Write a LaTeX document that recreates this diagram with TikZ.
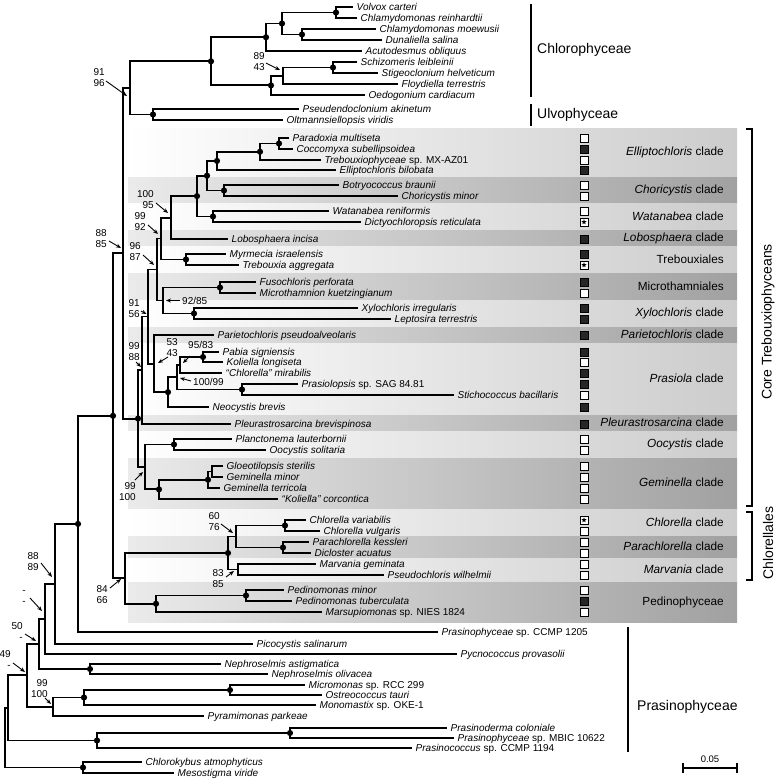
\documentclass[tikz,border=0pt]{standalone}
\usepackage{fontspec}
\setmainfont{Liberation Sans}
\usetikzlibrary{calc,arrows.meta,shapes.geometric}
\newcommand{\mkleaf}[4]{%
  \coordinate (#1) at (#2,#3);
  \node[sp] (#1t) at ($(#1)+(3.5,3.5)$) {#4};}
\newcommand{\mkjoin}[4]{%
  \path let \p1=($(#3)!0.5!(#4)$) in (#2pt,\y1) coordinate (#1);
  \draw[br] (#1) |- (#3);
  \draw[br] (#1) |- (#4);}
\newcommand{\mkband}[4]{%
  \shade[#3] (128,#1) rectangle (737,#2);
  \node[cl] at (724,{(#1+#2)/2}) {#4};}
\newcommand{\mksq}[2]{\node[sq#2] (q#1) at (584,0 |- #1) {};}
\newcommand{\mkstar}[1]{\node[sqo] (q#1) at (584,0 |- #1) {};\node[starm] (s#1) at (q#1) {};}
\newcommand{\bsl}[9]{%
  \node[bs, anchor=#2] (#1) at (#3,#4) {#5};
  \coordinate (#1s) at (#6,#7); \coordinate (#1e) at (#8,#9);
  \draw[arr] (#1s) -- (#1e);}
\newcommand{\mkdot}[1]{\fill (#1) circle (3.1);}
\begin{document}
\begin{tikzpicture}[x=1pt,y=-1pt,
  br/.style={line width=1.9pt, black},
  sp/.style={font=\fontsize{10}{12}\selectfont, anchor=base west, inner sep=0pt},
  bs/.style={font=\fontsize{10}{11}\selectfont, align=right, inner sep=0pt},
  arr/.style={line width=0.9pt, -{Stealth[length=5pt,width=4pt]}},
  cl/.style={font=\fontsize{11.8}{14}\selectfont, anchor=east, inner sep=0pt, text height=8.5pt, text depth=2.5pt},
  grp/.style={font=\fontsize{14}{16}\selectfont, inner sep=0pt},
  sqo/.style={draw=black, fill=white, line width=0.6pt, minimum size=7.6pt, inner sep=0pt},
  sqf/.style={sqo, fill=black!85},
  starm/.style={star, star points=5, star point ratio=2.3, fill=black, inner sep=0pt, minimum size=5.5pt},
  bandL/.style={left color=white, right color=black!20},
  bandD/.style={left color=black!8, right color=black!37}]
\useasboundingbox (0,0) rectangle (778,780);
% ---------- bands ----------
\mkband{128}{177.5}{bandL}{\textit{Elliptochloris} clade}
\mkband{177.5}{203.5}{bandD}{\textit{Choricystis} clade}
\mkband{203.5}{230.5}{bandL}{\textit{Watanabea} clade}
\mkband{230.5}{246.5}{bandD}{\textit{Lobosphaera} clade}
\mkband{246.5}{273.5}{bandL}{Trebouxiales}
\mkband{273.5}{300.5}{bandD}{Microthamniales}
\mkband{300.5}{327}{bandL}{\textit{Xylochloris} clade}
\mkband{327}{343.5}{bandD}{\textit{Parietochloris} clade}
\mkband{343.5}{415.5}{bandL}{\textit{Prasiola} clade}
\mkband{415.5}{431.5}{bandD}{\textit{Pleurastrosarcina} clade}
\mkband{431.5}{458}{bandL}{\textit{Oocystis} clade}
\mkband{458}{509.5}{bandD}{\textit{Geminella} clade}
\mkband{509.5}{536.5}{bandL}{\textit{Chlorella} clade}
\mkband{536.5}{558.5}{bandD}{\textit{Parachlorella} clade}
\mkband{558.5}{582.5}{bandL}{\textit{Marvania} clade}
\mkband{582.5}{622}{bandD}{Pedinophyceae}
% ---------- leaves ----------
\mkleaf{vol}{353}{7}{\textit{Volvox carteri}}
\mkleaf{crei}{357}{18}{\textit{Chlamydomonas reinhardtii}}
\mkleaf{cmoe}{376}{29}{\textit{Chlamydomonas moewusii}}
\mkleaf{dun}{382}{40}{\textit{Dunaliella salina}}
\mkleaf{acu}{362}{51}{\textit{Acutodesmus obliquus}}
\mkleaf{sch}{357}{62}{\textit{Schizomeris leibleinii}}
\mkleaf{sti}{378}{73}{\textit{Stigeoclonium helveticum}}
\mkleaf{flo}{398}{84}{\textit{Floydiella terrestris}}
\mkleaf{oed}{365}{95}{\textit{Oedogonium cardiacum}}
\mkleaf{pse}{299}{109}{\textit{Pseudendoclonium akinetum}}
\mkleaf{olt}{283}{120}{\textit{Oltmannsiellopsis viridis}}
\mkleaf{par}{289}{138}{\textit{Paradoxia multiseta}}
\mkleaf{coc}{293}{149}{\textit{Coccomyxa subellipsoidea}}
\mkleaf{mxa}{321}{160}{\textit{Trebouxiophyceae} sp. MX-AZ01}
\mkleaf{ell}{336}{170}{\textit{Elliptochloris bilobata}}
\mkleaf{bot}{339}{185}{\textit{Botryococcus braunii}}
\mkleaf{cho}{398}{196}{\textit{Choricystis minor}}
\mkleaf{wat}{329}{211}{\textit{Watanabea reniformis}}
\mkleaf{dic}{361}{222}{\textit{Dictyochloropsis reticulata}}
\mkleaf{lob}{228}{239}{\textit{Lobosphaera incisa}}
\mkleaf{myr}{226}{254}{\textit{Myrmecia israelensis}}
\mkleaf{tre}{239}{265}{\textit{Trebouxia aggregata}}
\mkleaf{fus}{256}{282}{\textit{Fusochloris perforata}}
\mkleaf{mic}{256}{293}{\textit{Microthamnion kuetzingianum}}
\mkleaf{xyl}{358}{308}{\textit{Xylochloris irregularis}}
\mkleaf{lep}{391}{319}{\textit{Leptosira terrestris}}
\mkleaf{pari}{214}{335}{\textit{Parietochloris pseudoalveolaris}}
\mkleaf{pab}{219}{352}{\textit{Pabia signiensis}}
\mkleaf{kol}{223}{362}{\textit{Koliella longiseta}}
\mkleaf{cmi}{222}{373}{\textit{``Chlorella'' mirabilis}}
\mkleaf{prl}{298}{384}{\textit{Prasiolopsis} sp. SAG 84.81}
\mkleaf{stc}{454}{395}{\textit{Stichococcus bacillaris}}
\mkleaf{neo}{209}{407}{\textit{Neocystis brevis}}
\mkleaf{ple}{231}{424}{\textit{Pleurastrosarcina brevispinosa}}
\mkleaf{pla}{232}{439}{\textit{Planctonema lauterbornii}}
\mkleaf{ooc}{266}{450}{\textit{Oocystis solitaria}}
\mkleaf{glo}{223}{466}{\textit{Gloeotilopsis sterilis}}
\mkleaf{gmi}{223}{477}{\textit{Geminella minor}}
\mkleaf{gte}{220}{488}{\textit{Geminella terricola}}
\mkleaf{kco}{278}{499}{\textit{``Koliella'' corcontica}}
\mkleaf{cva}{306}{520}{\textit{Chlorella variabilis}}
\mkleaf{cvu}{320}{531}{\textit{Chlorella vulgaris}}
\mkleaf{pke}{309}{542}{\textit{Parachlorella kessleri}}
\mkleaf{dac}{311}{553}{\textit{Dicloster acuatus}}
\mkleaf{mge}{316}{564}{\textit{Marvania geminata}}
\mkleaf{pwi}{384}{575}{\textit{Pseudochloris wilhelmii}}
\mkleaf{pmi}{284}{590}{\textit{Pedinomonas minor}}
\mkleaf{ptu}{292}{601}{\textit{Pedinomonas tuberculata}}
\mkleaf{mar}{322}{612}{\textit{Marsupiomonas} sp. NIES 1824}
\mkleaf{c12}{438}{632}{\textit{Prasinophyceae} sp. CCMP 1205}
\mkleaf{pic}{253}{644}{\textit{Picocystis salinarum}}
\mkleaf{pyc}{457}{654}{\textit{Pycnococcus provasolii}}
\mkleaf{nas}{221}{664}{\textit{Nephroselmis astigmatica}}
\mkleaf{nol}{268}{674}{\textit{Nephroselmis olivacea}}
\mkleaf{mim}{305}{685}{\textit{Micromonas} sp. RCC 299}
\mkleaf{ost}{322}{695}{\textit{Ostreococcus tauri}}
\mkleaf{mon}{316}{705}{\textit{Monomastix} sp. OKE-1}
\mkleaf{pyr}{204}{716}{\textit{Pyramimonas parkeae}}
\mkleaf{pcl}{447}{728}{\textit{Prasinoderma coloniale}}
\mkleaf{mbi}{454}{738}{\textit{Prasinophyceae} sp. MBIC 10622}
\mkleaf{pcc}{412}{748}{\textit{Prasinococcus} sp. CCMP 1194}
\mkleaf{chk}{142}{762}{\textit{Chlorokybus atmophyticus}}
\mkleaf{mes}{174}{773}{\textit{Mesostigma viride}}
% ---------- internal nodes ----------
\mkjoin{vc}{336}{vol}{crei}
\mkjoin{cd}{302}{cmoe}{dun}
\mkjoin{ch}{282}{vc}{cd}
\mkjoin{chl}{266}{ch}{acu}
\mkjoin{ss}{333}{sch}{sti}
\mkjoin{n89}{283}{ss}{flo}
\mkjoin{occ}{271}{n89}{oed}
\mkjoin{cp}{211}{chl}{occ}
\mkjoin{ul}{153}{pse}{olt}
\mkjoin{n91}{130}{cp}{ul}
\mkjoin{pc}{279}{par}{coc}
\mkjoin{pcm}{260}{pc}{mxa}
\mkjoin{el}{217}{pcm}{ell}
\mkjoin{bc}{224}{bot}{cho}
\mkjoin{eb}{207}{el}{bc}
\mkjoin{wd}{213}{wat}{dic}
\mkjoin{ew}{197}{eb}{wd}
\mkjoin{n100}{171}{ew}{lob}
\mkjoin{mt}{186}{myr}{tre}
\mkjoin{n99a}{161}{n100}{mt}
\mkjoin{fm}{220}{fus}{mic}
\mkjoin{xl}{194}{xyl}{lep}
\mkjoin{n92}{163}{fm}{xl}
\mkjoin{n96}{157}{n99a}{n92}
\mkjoin{pk}{203}{pab}{kol}
\mkjoin{n95}{180}{pk}{cmi}
\mkjoin{ps}{242}{prl}{stc}
\mkjoin{n10099}{177}{n95}{ps}
\mkjoin{pra}{168}{n10099}{neo}
\mkjoin{n53}{154}{pari}{pra}
\mkjoin{n9156}{148}{n96}{n53}
\mkjoin{n9988}{142}{n9156}{ple}
\mkjoin{po}{174}{pla}{ooc}
\mkjoin{gg}{212}{glo}{gmi}
\mkjoin{ggt}{208}{gg}{gte}
\mkjoin{gem}{159}{ggt}{kco}
\mkjoin{n99b}{145}{po}{gem}
\mkjoin{ct}{138}{n9988}{n99b}
\mkjoin{n8885}{123}{n91}{ct}
\mkjoin{cv}{285}{cva}{cvu}
\mkjoin{pd}{283}{pke}{dac}
\mkjoin{n6076}{236}{cv}{pd}
\mkjoin{n8385}{238}{mge}{pwi}
\mkjoin{chll}{228}{n6076}{n8385}
\mkjoin{pt}{246}{pmi}{ptu}
\mkjoin{ped}{156}{pt}{mar}
\mkjoin{n8466}{125}{chll}{ped}
\mkjoin{nc}{113}{n8885}{n8466}
\mkjoin{x78}{78}{nc}{c12}
\mkjoin{n8889}{55}{x78}{pic}
\mkjoin{nmm}{45}{n8889}{pyc}
\mkjoin{ne}{90}{nas}{nol}
\mkjoin{n50}{39}{nmm}{ne}
\mkjoin{mo}{230}{mim}{ost}
\mkjoin{mam}{84}{mo}{mon}
\mkjoin{n99p}{53}{mam}{pyr}
\mkjoin{n49}{27}{n50}{n99p}
\mkjoin{pd2}{290}{pcl}{mbi}
\mkjoin{pcx}{97}{pd2}{pcc}
\mkjoin{na}{8}{n49}{pcx}
\mkjoin{cm}{83}{chk}{mes}
\mkjoin{root}{5}{na}{cm}
% ---------- dots ----------
\foreach \d in {vc,cd,ch,chl,ss,occ,cp,ul,pc,pcm,el,bc,eb,wd,ew,mt,fm,xl,pk,ps,pra,po,ggt,gem,ct,nc,cv,pd,chll,pt,ped,x78,ne,mo,mam,pd2,pcx,cm}{\mkdot{\d}}
% ---------- squares ----------
\mksq{par}{o}\mksq{coc}{f}\mksq{mxa}{o}\mksq{ell}{f}
\mksq{bot}{o}\mksq{cho}{o}
\mksq{wat}{o}\mkstar{dic}
\mksq{lob}{f}
\mksq{myr}{f}\mkstar{tre}
\mksq{fus}{f}\mksq{mic}{o}
\mksq{xyl}{f}\mksq{lep}{f}
\mksq{pari}{f}
\mksq{pab}{f}\mksq{kol}{o}\mksq{cmi}{f}\mksq{prl}{f}\mksq{stc}{o}\mksq{neo}{f}
\mksq{ple}{f}
\mksq{pla}{o}\mksq{ooc}{o}
\mksq{glo}{o}\mksq{gmi}{o}\mksq{gte}{o}\mksq{kco}{o}
\mkstar{cva}\mksq{cvu}{o}
\mksq{pke}{o}\mksq{dac}{o}
\mksq{mge}{o}\mksq{pwi}{o}
\mksq{pmi}{o}\mksq{ptu}{f}\mksq{mar}{o}
% ---------- support values ----------
\bsl{b91}{east}{105}{78}{91\\96}{106}{81}{127}{96}
\bsl{b89}{east}{265}{62}{89\\43}{266}{63}{280}{70}
\bsl{b8885}{east}{107}{238.5}{88\\85}{109}{241}{121}{248}
\bsl{b100}{east}{154}{200}{100\\95}{156}{203}{168}{213}
\bsl{b99a}{east}{146}{222}{99\\92}{148}{225}{158}{234}
\bsl{b96}{east}{141}{252}{96\\87}{143}{255}{154}{265}
\bsl{b92}{west}{182}{300.5}{92/85}{180}{300.5}{166}{300.5}
\bsl{b9156}{east}{140}{308.5}{91\\56}{141}{311}{146.5}{314}
\bsl{b9988}{east}{140}{352}{99\\88}{136}{362}{141}{367}
\bsl{b53}{east}{178}{348}{53\\43}{168}{357}{158}{363}
\bsl{b95}{west}{188}{345}{95/83}{190}{356}{183}{363}
\bsl{b10099}{west}{193}{382}{100/99}{191}{381}{180}{378}
\bsl{b99b}{east}{136}{492}{99\\100}{135}{480}{143}{472}
\bsl{b6076}{east}{220}{521.5}{60\\76}{221}{524}{233}{533}
\bsl{b8385}{east}{224}{578.5}{83\\85}{226}{577}{234}{571}
\bsl{b8466}{east}{108}{594.5}{84\\66}{110}{588}{121}{579}
\bsl{b8889}{east}{39}{561.5}{88\\89}{41}{563}{52}{577}
\bsl{bmm}{east}{26}{597}{-\\-}{30}{598}{42}{611}
\bsl{b50}{east}{23}{631.5}{50\\-}{25}{634}{36}{641}
\bsl{b49}{east}{11}{660}{49\\-}{13}{663}{25}{672}
\bsl{b99p}{east}{48}{688.5}{99\\100}{45}{698}{51}{704}
% ---------- group labels ----------
\coordinate (bc1) at (531,4); \coordinate (bc2) at (531,97);
\draw[line width=1.4pt] (bc1) -- (bc2);
\node[grp, anchor=west] (gchp) at (537,50) {Chlorophyceae};
\coordinate (bu1) at (531,104); \coordinate (bu2) at (531,126);
\draw[line width=1.4pt] (bu1) -- (bu2);
\node[grp, anchor=west] (gulv) at (537,115) {Ulvophyceae};
\coordinate (bp1) at (628,627); \coordinate (bp2) at (628,752);
\draw[line width=1.4pt] (bp1) -- (bp2);
\node[grp, anchor=west] (gpra) at (637,707) {Prasinophyceae};
\coordinate (k1) at (746,129); \coordinate (k2) at (752,129);
\coordinate (k3) at (752,506); \coordinate (k4) at (746,506);
\draw[line width=1.2pt] (k1) -- (k2) -- (k3) -- (k4);
\coordinate (m1) at (746,512); \coordinate (m2) at (752,512);
\coordinate (m3) at (752,580); \coordinate (m4) at (746,580);
\draw[line width=1.2pt] (m1) -- (m2) -- (m3) -- (m4);
\node[grp, rotate=90] (gcore) at (768,322) {Core Trebouxiophyceans};
\node[grp, rotate=90] (gchll) at (768,543) {Chlorellales};
% ---------- scale bar ----------
\coordinate (s1) at (683,768); \coordinate (s2) at (737,768);
\draw[line width=1.2pt] (s1) -- (s2);
\draw[line width=1.2pt] ($(s1)+(0,-5)$) -- ($(s1)+(0,5)$);
\draw[line width=1.2pt] ($(s2)+(0,-5)$) -- ($(s2)+(0,5)$);
\node[font=\fontsize{9.5}{11}\selectfont, inner sep=0pt] (slab) at (710,759) {0.05};
\end{tikzpicture}
\end{document}
